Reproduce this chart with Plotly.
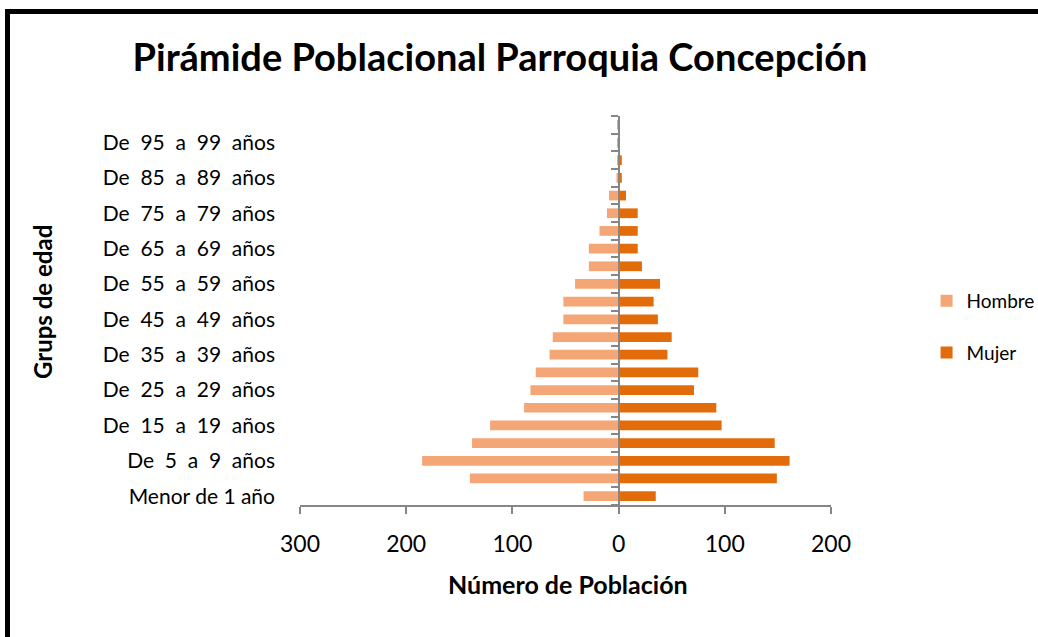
import plotly.graph_objects as go

# ---------------- data ----------------
categorias = [
    "Menor de 1 año", "De 1 a 4 años", "De 5 a 9 años", "De 10 a 14 años",
    "De 15 a 19 años", "De 20 a 24 años", "De 25 a 29 años", "De 30 a 34 años",
    "De 35 a 39 años", "De 40 a 44 años", "De 45 a 49 años", "De 50 a 54 años",
    "De 55 a 59 años", "De 60 a 64 años", "De 65 a 69 años", "De 70 a 74 años",
    "De 75 a 79 años", "De 80 a 84 años", "De 85 a 89 años", "De 90 a 94 años",
    "De 95 a 99 años", "De 100 años y más",
]
hombre = [33, 140, 185, 138, 121, 89, 83, 78, 65, 62, 52, 52, 41, 28, 28, 18, 11, 9, 2, 1, 1, 1]
mujer = [35, 149, 161, 147, 97, 92, 71, 75, 46, 50, 37, 33, 39, 22, 18, 18, 18, 7, 3, 3, 1, 1]

x_ticks = [-300, -200, -100, 0, 100, 200]
x_range = [-300, 200]

titulo = "Pirámide Poblacional Parroquia Concepción"
titulo_x = "Número de Población"
titulo_y = "Grups de edad"

# ---------------- style ----------------
FONT = "Lato, Carlito, Calibri, sans-serif"
C_H = "#F4A676"
C_M = "#E36C0A"
GRAY = "#868686"
W, H = 1038, 637
ML, MR, MT, MB = 300, 207, 116, 132

fig = go.Figure()
fig.add_trace(go.Bar(
    y=categorias, x=[-v for v in hombre], orientation="h", name="Hombre",
    marker=dict(color=C_H, line=dict(width=0)), legendgroup="h",
))
fig.add_trace(go.Bar(
    y=categorias, x=mujer, orientation="h", name="Mujer",
    marker=dict(color=C_M, line=dict(width=0)), legendgroup="m",
))
# helper trace so the central axis (with boundary ticks) is drawn
fig.add_trace(go.Scatter(x=[None], y=[None], yaxis="y2", showlegend=False,
                         hoverinfo="skip"))

n = len(categorias)
zero_pos = (0 - x_range[0]) / (x_range[1] - x_range[0])

# tick labels shown every other category (wider spacing as in the source)
shown = categorias[::2]
shown_text = [c.replace(" ", "\u00a0 ") if c.startswith("De ") else c for c in shown]

fig.update_layout(
    width=W, height=H,
    margin=dict(l=ML, r=MR, t=MT, b=MB, autoexpand=False),
    paper_bgcolor="white", plot_bgcolor="white",
    barmode="relative", bargap=0.45,
    font=dict(family=FONT, color="black", size=20),
    showlegend=True,
    legend=dict(
        x=1.18, xanchor="left", y=0.458, yanchor="middle",
        traceorder="grouped", tracegroupgap=24,
        font=dict(size=19, family=FONT), bgcolor="rgba(0,0,0,0)",
    ),
    xaxis=dict(
        range=x_range, tickvals=x_ticks, ticktext=[str(abs(v)) for v in x_ticks],
        showline=True, linecolor=GRAY, linewidth=2,
        ticks="outside", ticklen=7, tickwidth=2, tickcolor=GRAY,
        showgrid=False, zeroline=False, ticklabelstandoff=10,
        tickfont=dict(size=23, family=FONT),
        fixedrange=True,
    ),
    yaxis=dict(
        type="category", categoryorder="array", categoryarray=categorias,
        range=[-0.5, n - 0.5],
        tickvals=shown, ticktext=shown_text,
        showline=False, ticks="", showgrid=False, zeroline=False,
        ticklabelstandoff=24, tickfont=dict(size=21, family=FONT),
    ),
    yaxis2=dict(
        overlaying="y", anchor="free", position=zero_pos, side="left",
        range=[-0.5, n - 0.5],
        tickvals=[i - 0.5 for i in range(n + 1)],
        showticklabels=False, ticks="outside", ticklen=7, tickwidth=2,
        tickcolor=GRAY, showline=True, linecolor=GRAY, linewidth=2,
        showgrid=False, zeroline=False,
    ),
    title=dict(
        text="<b>" + titulo + "</b>", x=500 / W, xanchor="center",
        y=1 - 58 / H, yanchor="middle", xref="container", yref="container",
        font=dict(size=38, family=FONT, color="black"),
    ),
)

pw = W - ML - MR
ph = H - MT - MB


def px_x(p):
    return (p - ML) / pw


def px_y(p):
    return (H - MB - p) / ph


fig.add_annotation(
    text="<b>" + titulo_x + "</b>", x=px_x(568), y=px_y(584), xref="paper", yref="paper",
    showarrow=False, xanchor="center", yanchor="middle",
    font=dict(size=25, family=FONT, color="black"),
)
fig.add_annotation(
    text="<b>" + titulo_y + "</b>", x=px_x(42), y=px_y(302), xref="paper", yref="paper",
    showarrow=False, xanchor="center", yanchor="middle", textangle=-90,
    font=dict(size=24, family=FONT, color="black"),
)

# outer black frame (left and top visible)
fig.add_shape(
    type="rect", xref="paper", yref="paper",
    x0=px_x(7.5), x1=px_x(1060), y0=px_y(660), y1=px_y(11.5),
    line=dict(color="black", width=5), fillcolor="rgba(0,0,0,0)", layer="below",
)

fig.write_html(
    "out.html",
    config={"displayModeBar": False},
    post_script="document.body.style.margin='0';document.body.style.overflow='hidden';",
)
